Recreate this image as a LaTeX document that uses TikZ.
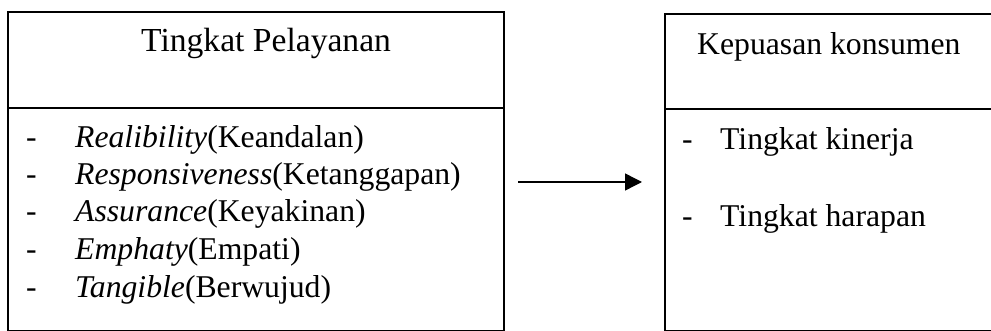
\documentclass[tikz,border=0pt]{standalone}
\usepackage{fontspec}
\setmainfont{Liberation Serif}
\usetikzlibrary{arrows.meta}
\tikzset{
  boxline/.style={draw=black, line width=1.8pt},
  txt/.style={anchor=base west, inner sep=0pt, font=\fontsize{31.7}{38}\selectfont},
  title/.style={txt, font=\fontsize{33.6}{40}\selectfont},
  conn/.style={line width=1.4pt, -{Triangle[length=17pt,width=17pt]}}
}
\begin{document}
\begin{tikzpicture}[x=1pt,y=-1pt]
\clip (0,0) rectangle (991,331);
% left box
\node[boxline, anchor=north west, minimum width=496pt, minimum height=319pt, inner sep=0pt] (L) at (7,11) {};
\draw[boxline] (L.west |- 0,108) -- (L.east |- 0,108);
\node[title] (lt) at (141,52) {Tingkat Pelayanan};
\node[txt] (d1) at (26,148) {-};
\node[txt] (d2) at (26,185) {-};
\node[txt] (d3) at (26,222) {-};
\node[txt] (d4) at (26,260) {-};
\node[txt] (d5) at (26,298) {-};
\node[txt] (i1) at (75,148) {\textit{Realibility}(Keandalan)};
\node[txt] (i2) at (75,185) {\textit{Responsiveness}(Ketanggapan)};
\node[txt] (i3) at (75,222) {\textit{Assurance}(Keyakinan)};
\node[txt] (i4) at (75,260) {\textit{Emphaty}(Empati)};
\node[txt] (i5) at (75,298) {\textit{Tangible}(Berwujud)};
% right box
\node[boxline, anchor=north west, minimum width=346pt, minimum height=317pt, inner sep=0pt] (R) at (664,13) {};
\draw[boxline] (R.west |- 0,109) -- (R.east |- 0,109);
\node[txt] (rt) at (697,55) {Kepuasan konsumen};
\node[txt] (e1) at (682,150) {-};
\node[txt] (e2) at (682,227) {-};
\node[txt] (j1) at (720,150) {Tingkat kinerja};
\node[txt] (j2) at (720,227) {Tingkat harapan};
% arrow
\coordinate (a1) at (518,182);
\coordinate (a2) at (642,182);
\draw[conn] (a1) -- (a2);
\end{tikzpicture}
\end{document}
